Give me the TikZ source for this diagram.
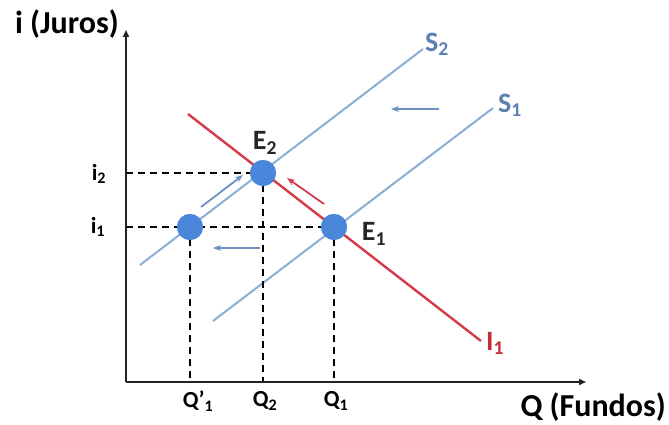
\documentclass[tikz,border=0pt]{standalone}
\usepackage{fontspec}
\setmainfont{Carlito}
\usetikzlibrary{arrows.meta}
\definecolor{supcol}{HTML}{8AAED6}
\definecolor{slab}{HTML}{5A7FB0}
\definecolor{dotcol}{HTML}{4A86DA}
\definecolor{redcol}{HTML}{D43A4A}
\definecolor{redlab}{HTML}{C0303A}
\definecolor{arrcol}{HTML}{6E90C2}
\definecolor{axcol}{HTML}{222222}
\begin{document}
\begin{tikzpicture}[x=1pt,y=-1pt,
  axis/.style={draw=axcol,line width=2pt,-{Triangle[length=7pt,width=6pt]}},
  guide/.style={draw=black,line width=1.4pt,dash pattern=on 7pt off 5pt},
  supply/.style={draw=supcol,line width=2pt},
  demand/.style={draw=redcol,line width=2.4pt},
  eqdot/.style={circle,fill=dotcol,minimum size=26pt,inner sep=0pt},
  axlab/.style={font=\fontsize{32}{36}\selectfont\bfseries,inner sep=0pt},
  biglab/.style={font=\fontsize{28}{32}\selectfont\bfseries,inner sep=0pt},
  smalllab/.style={font=\fontsize{23}{26}\selectfont\bfseries,inner sep=0pt},
  shiftarr/.style={draw=arrcol,line width=1.8pt,-{Stealth[length=8pt,width=6pt]}},
  redarr/.style={draw=redcol,line width=1.8pt,-{Stealth[length=8pt,width=6pt]}}]
\useasboundingbox (0,0) rectangle (669,425);
% axes
\coordinate (O) at (126,382);
\coordinate (ytop) at (126,30);
\coordinate (xend) at (586,382);
% curves
\coordinate (s2a) at (140,265);
\coordinate (s2b) at (423,49);
\coordinate (s1a) at (213,321);
\coordinate (s1b) at (493,108);
\coordinate (da) at (188,114);
\coordinate (db) at (481,341);
\draw[supply] (s2a) -- (s2b);
\draw[supply] (s1a) -- (s1b);
\draw[demand] (da) -- (db);
% axis points
\coordinate (yi2) at (126,173);
\coordinate (yi1) at (126,227);
\coordinate (xq1p) at (190,382);
\coordinate (xq2) at (263,382);
\coordinate (xq1) at (334,382);
% dots
\node[eqdot] (E2) at (263,173) {};
\node[eqdot] (Ep) at (190,227) {};
\node[eqdot] (E1) at (334,227) {};
% guides
\draw[guide] (yi2) -- (E2.center);
\draw[guide] (yi1) -- (E1.center);
\draw[guide] (E2.center) -- (xq2);
\draw[guide] (Ep.center) -- (xq1p);
\draw[guide] (E1.center) -- (xq1);
\node[eqdot] at (E2) {};
\node[eqdot] at (Ep) {};
\node[eqdot] at (E1) {};
\draw[axis] (O) -- (ytop);
\draw[axis] (O) -- (xend);
% arrows
\coordinate (a1s) at (439,109);
\coordinate (a1e) at (391,109);
\coordinate (a2s) at (260,248);
\coordinate (a2e) at (213,248);
\coordinate (a3s) at (201,207);
\coordinate (a3e) at (243,175);
\coordinate (a4s) at (324,204);
\coordinate (a4e) at (287,178);
\draw[shiftarr] (a1s) -- (a1e);
\draw[shiftarr] (a2s) -- (a2e);
\draw[shiftarr] (a3s) -- (a3e);
\draw[redarr] (a4s) -- (a4e);
% labels
\node[axlab,anchor=east] (ylab) at (119,24) {i (Juros)};
\node[axlab,anchor=east] (xlab) at (666,407) {Q (Fundos)};
\node[biglab,text=slab] (S2lab) at (437,44) {S\textsubscript{2}};
\node[biglab,text=slab] (S1lab) at (510,105) {S\textsubscript{1}};
\node[biglab,text=redlab] (I1lab) at (495,343) {I\textsubscript{1}};
\node[biglab,text=black!85] (E2lab) at (265,143) {E\textsubscript{2}};
\node[biglab,text=black!85] (E1lab) at (374,234) {E\textsubscript{1}};
\node[smalllab] (i2lab) at (99,174) {i\textsubscript{2}};
\node[smalllab] (i1lab) at (98,227) {i\textsubscript{1}};
\node[smalllab] (q1plab) at (198,401) {Q\textquoteright\textsubscript{1}};
\node[smalllab] (q2lab) at (265,401) {Q\textsubscript{2}};
\node[smalllab] (q1lab) at (336,401) {Q\textsubscript{1}};
\end{tikzpicture}
\end{document}
